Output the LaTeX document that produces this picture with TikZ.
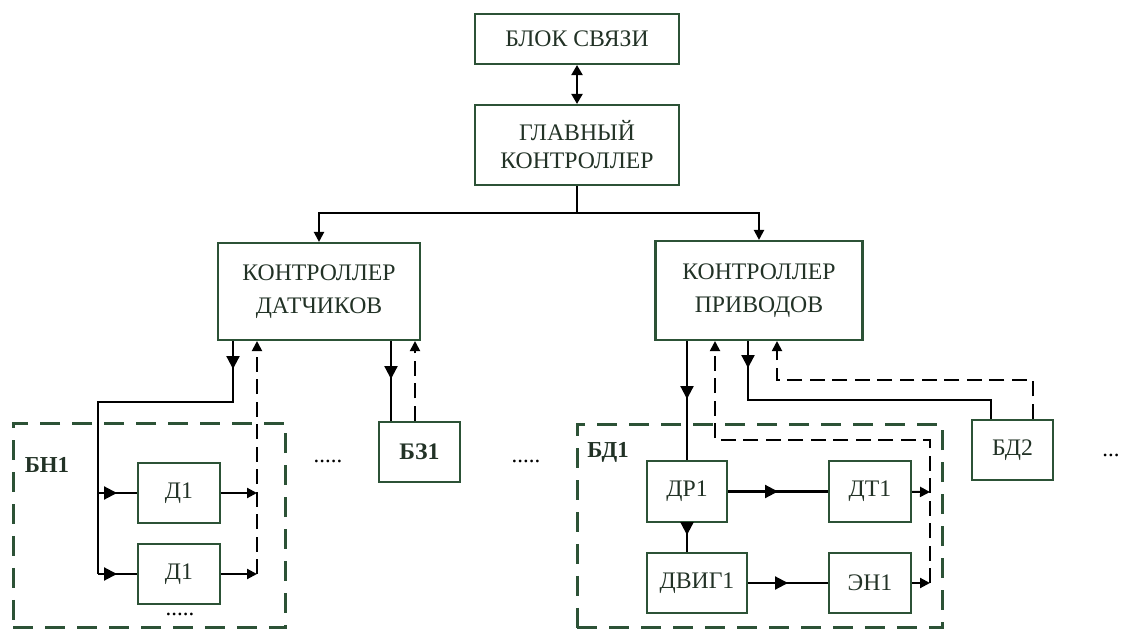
\documentclass[tikz,border=0pt]{standalone}
\usepackage{fontspec}
\setmainfont{Liberation Serif}
\usetikzlibrary{arrows.meta,decorations.markings}
\definecolor{boxg}{RGB}{44,82,54}
\definecolor{txtg}{RGB}{34,50,38}
\tikzset{
  blk/.style={draw=boxg, line width=1.2pt, text=txtg, font=\fontsize{13.5}{15}\selectfont, align=center, inner sep=2pt},
  grp/.style={draw=boxg, line width=1.7pt, dash pattern=on 0.4cm off 0.24cm},
  ln/.style={line width=1.2pt, black},
  dl/.style={line width=1.1pt, black, dash pattern=on 0.3cm off 0.15cm},
  tip/.style={-{Triangle[length=0.2cm,width=0.2cm]}},
  marr/.style={postaction={decorate}, decoration={markings, mark=at position #1 with {\arrow{Triangle[length=0.26cm,width=0.26cm]}}}},
  lbl/.style={text=txtg, font=\fontsize{13}{15}\selectfont\bfseries},
  dots/.style={font=\fontsize{13}{15}\selectfont, inner sep=0pt},
}
\begin{document}
\begin{tikzpicture}[x=0.02cm, y=-0.02cm]
\useasboundingbox (0,0) rectangle (1125,631);
\node[blk, minimum width=4.08cm, minimum height=1cm] (svyaz) at (577,39) {БЛОК СВЯЗИ};
\node[blk, minimum width=4.08cm, minimum height=1.6cm] (glav) at (577,145) {ГЛАВНЫЙ\\[1pt]КОНТРОЛЛЕР};
\node[blk, minimum width=4.04cm, minimum height=1.94cm] (kdat) at (319,291.5) {КОНТРОЛЛЕР\\[4pt]ДАТЧИКОВ};
\node[blk, minimum width=4.14cm, minimum height=1.98cm] (kpriv) at (759,290.5) {КОНТРОЛЛЕР\\[4pt]ПРИВОДОВ};
\node[grp, minimum width=5.46cm, minimum height=4.1cm] (bn) at (149.5,525.5) {};
\node[grp, minimum width=7.32cm, minimum height=4.08cm] (bd) at (760,526) {};
\node[lbl] (bnl) at (47,465) {БН1};
\node[lbl] (bdl) at (608,452) {БД1};
\node[blk, minimum width=1.64cm, minimum height=1.2cm] (d1a) at (179,493) {Д1};
\node[blk, minimum width=1.64cm, minimum height=1.2cm] (d1b) at (179,574) {Д1};
\node[blk, font=\fontsize{13.5}{15}\selectfont\bfseries, minimum width=1.62cm, minimum height=1.2cm] (bz1) at (419.5,452) {БЗ1};
\node[blk, minimum width=1.62cm, minimum height=1.2cm] (bd2) at (1012.5,450) {БД2};
\node[blk, minimum width=1.6cm, minimum height=1.22cm] (dr1) at (687,491.5) {ДР1};
\node[blk, minimum width=1.64cm, minimum height=1.22cm] (dt1) at (870,491.5) {ДТ1};
\node[blk, minimum width=2cm, minimum height=1.2cm] (dvig) at (697,583) {ДВИГ1};
\node[blk, minimum width=1.64cm, minimum height=1.2cm] (en1) at (870,583) {ЭН1};
\node[dots] (dotsa) at (180,614) {.....};
\node[dots] (dotsb) at (328,461) {.....};
\node[dots] (dotsc) at (526,461) {.....};
\node[dots] (dotsd) at (1111,455) {...};
\coordinate (bus) at (577,213);
\coordinate (s1) at (233,402);
\coordinate (s3) at (98,574);
\coordinate (s4) at (98,493);
\coordinate (r1) at (257,493);
\coordinate (r2) at (257,574);
\coordinate (xz1) at (391,0);
\coordinate (xz2) at (415,0);
\coordinate (q1) at (930,492);
\coordinate (q2) at (930,583);
\coordinate (q3) at (715,440);
\coordinate (p1) at (748,400);
\coordinate (p2) at (777,380);
\coordinate (xb1) at (991,0);
\coordinate (xb2) at (1033,0);
\draw[ln, {Triangle[length=0.2cm,width=0.22cm]}-{Triangle[length=0.2cm,width=0.22cm]}] (svyaz) -- (glav);
\draw[ln] (glav) -- (bus);
\draw[ln, tip] (bus) -| (kdat.north);
\draw[ln, tip] (bus) -| (kpriv.north);
\draw[ln, marr=0.56cm] (kdat.south -| s1) -- (s1) -| (s3);
\draw[ln, marr=0.38cm] (s4) -- (d1a);
\draw[ln, marr=0.38cm] (s3) -- (d1b);
\draw[ln, tip] (d1a) -- (r1);
\draw[ln, tip] (d1b) -- (r2);
\draw[dl, tip] (r2) -- (kdat.south -| r2);
\draw[ln, marr=0.76cm] (kdat.south -| xz1) -- (bz1.north -| xz1);
\draw[dl, tip] (bz1.north -| xz2) -- (kdat.south -| xz2);
\draw[ln, marr=1.16cm] (kpriv.south -| dr1) -- (dr1);
\draw[ln, marr=0.5] (dr1) -- (dt1);
\draw[ln, marr=0.5] (dvig) -- (en1);
\draw[ln, marr=0.24cm] (dr1) -- (dr1 |- dvig.north);
\draw[ln, tip] (dt1) -- (q1);
\draw[ln, tip] (en1) -- (q2);
\draw[dl, tip] (q2) |- (q3) -- (kpriv.south -| q3);
\draw[ln, marr=0.54cm] (kpriv.south -| p1) -- (p1) -| (bd2.north -| xb1);
\draw[dl, tip] (bd2.north -| xb2) |- (p2) -- (kpriv.south -| p2);
\end{tikzpicture}
\end{document}
